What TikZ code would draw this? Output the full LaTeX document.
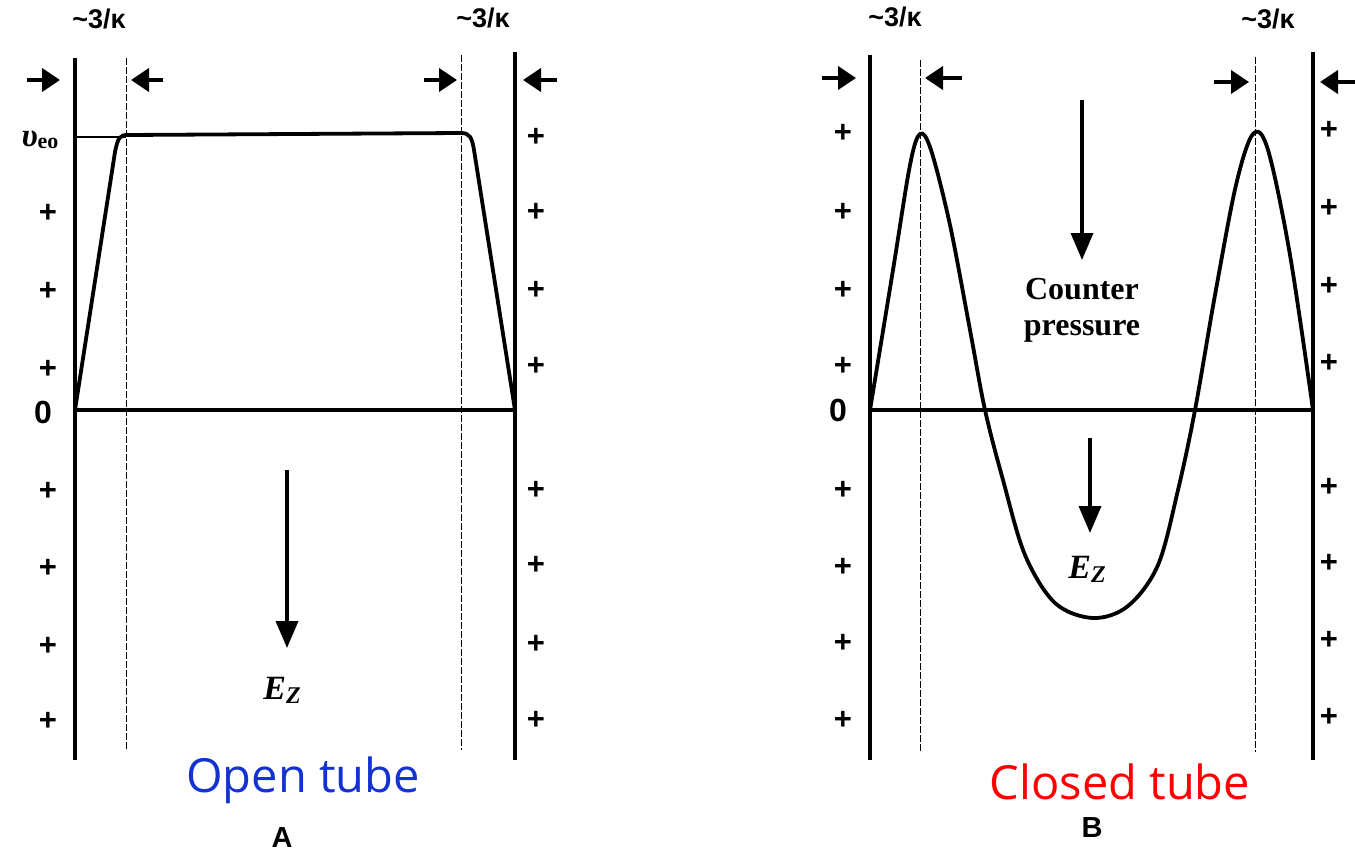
\documentclass[tikz,border=0pt]{standalone}
\usepackage{fontspec}
\setmainfont{Liberation Serif}
\newfontfamily\sansb{Liberation Sans}
\newfontfamily\tubefont{Open Sans}
\usetikzlibrary{arrows.meta}
\begin{document}
\begin{tikzpicture}[x=1pt,y=-1pt,
  wall/.style={line width=3.6pt},
  guide/.style={line width=1pt, dash pattern=on 7pt off 2pt},
  curve/.style={line width=3.8pt, line join=round, line cap=round},
  harrow/.style={-{Triangle[length=18pt,width=23pt]}, line width=4pt},
  varrow/.style={-{Triangle[length=27pt,width=22pt]}, line width=3.6pt},
  plus/.style={font=\sansb\bfseries\fontsize{31}{31}\selectfont, inner sep=0pt},
  kap/.style={font=\sansb\bfseries\fontsize{27}{27}\selectfont, inner sep=0pt},
  zero/.style={font=\sansb\bfseries\fontsize{32}{32}\selectfont, inner sep=0pt},
  ez/.style={font=\bfseries\itshape\fontsize{34}{34}\selectfont, inner sep=0pt},
  panel/.style={font=\sansb\bfseries\fontsize{29}{29}\selectfont, inner sep=0pt},
  tube/.style={font=\tubefont\fontsize{47}{47}\selectfont, inner sep=0pt}
]
\useasboundingbox (0,0) rectangle (1355,856);

% ================= Panel A =================
\coordinate (aLt) at (75,58);   \coordinate (aLb) at (75,760);
\coordinate (aRt) at (515,52);  \coordinate (aRb) at (515,760);
\coordinate (aGLt) at (126,58); \coordinate (aGLb) at (126,750);
\coordinate (aGRt) at (461,55); \coordinate (aGRb) at (461,750);
\draw[wall] (aLt) -- (aLb);
\draw[wall] (aRt) -- (aRb);
\draw[guide] (aGLt) -- (aGLb);
\draw[guide] (aGRt) -- (aGRb);
\coordinate (aO) at (75,410); \coordinate (aE) at (515,410);
\draw[wall] (aO) -- (aE);
\draw[line width=1.2pt] (75,137) -- (126,137);
\draw[curve] (aO) -- (115,152) .. controls (118,137) and (120,135) .. (128,135)
  -- (461,133) .. controls (470,133) and (472,138) .. (474,150) -- (aE);

\coordinate (a1s) at (27,80);  \coordinate (a1e) at (60,80);
\coordinate (a2s) at (163,80); \coordinate (a2e) at (131,80);
\coordinate (a3s) at (424,80); \coordinate (a3e) at (457,80);
\coordinate (a4s) at (557,80); \coordinate (a4e) at (523,80);
\draw[harrow] (a1s) -- (a1e);
\draw[harrow] (a2s) -- (a2e);
\draw[harrow] (a3s) -- (a3e);
\draw[harrow] (a4s) -- (a4e);
\node[kap] (ak1) at (99,19) {\char`\~3/κ};
\node[kap] (ak2) at (483,18) {\char`\~3/κ};

\node[inner sep=0pt, font=\bfseries\itshape\fontsize{33}{33}\selectfont] (aveo) at (40,140) {υ\raisebox{-2pt}{\upshape\fontsize{22}{22}\selectfont eo}};
\node[zero] (a0) at (43,412) {0};

\foreach \yy [count=\i] in {213,291,369,491,568,646,721}
  \node[plus] (apl\i) at (48,\yy) {+};
\foreach \yy [count=\i] in {137,212,290,366,490,565,644,720}
  \node[plus] (apr\i) at (536,\yy) {+};

\coordinate (aEs) at (287,470); \coordinate (aEe) at (287,648);
\draw[varrow] (aEs) -- (aEe);
\node[ez] (aEz) at (282,690) {E\raisebox{-4pt}{\fontsize{24}{24}\selectfont Z}};
\node[tube, text={rgb,255:red,20;green,50;blue,210}] (aTube) at (303,780) {Open tube};
\node[panel] (aA) at (282,838) {A};

% ================= Panel B =================
\coordinate (bLt) at (870,55);   \coordinate (bLb) at (870,760);
\coordinate (bRt) at (1313,52);  \coordinate (bRb) at (1313,760);
\coordinate (bGLt) at (920,60);  \coordinate (bGLb) at (920,752);
\coordinate (bGRt) at (1255,57); \coordinate (bGRb) at (1255,752);
\draw[wall] (bLt) -- (bLb);
\draw[wall] (bRt) -- (bRb);
\draw[guide] (bGLt) -- (bGLb);
\draw[guide] (bGRt) -- (bGRb);
\coordinate (bO) at (870,410); \coordinate (bE) at (1313,410);
\draw[wall] (bO) -- (bE);
\draw[curve] plot[smooth, tension=0.55] coordinates {
  (870,410) (893,270) (910,165) (920,134) (931,150) (950,225) (970,330)
  (985,410) (1003,480) (1025,555) (1055,603) (1093,618) (1128,606)
  (1158,565) (1178,490) (1195,410) (1215,295) (1236,185) (1253,134)
  (1268,150) (1290,255) (1313,410)};

\coordinate (b1s) at (822,78);   \coordinate (b1e) at (856,78);
\coordinate (b2s) at (962,78);   \coordinate (b2e) at (925,78);
\coordinate (b3s) at (1214,82);  \coordinate (b3e) at (1249,82);
\coordinate (b4s) at (1355,82);  \coordinate (b4e) at (1320,82);
\draw[harrow] (b1s) -- (b1e);
\draw[harrow] (b2s) -- (b2e);
\draw[harrow] (b3s) -- (b3e);
\draw[harrow] (b4s) -- (b4e);
\node[kap] (bk1) at (895,17) {\char`\~3/κ};
\node[kap] (bk2) at (1268,19) {\char`\~3/κ};

\node[zero] (b0) at (838,410) {0};
\foreach \yy [count=\i] in {133,212,290,366,490,567,643,720}
  \node[plus] (bpl\i) at (843,\yy) {+};
\foreach \yy [count=\i] in {130,208,286,363,487,563,640,717}
  \node[plus] (bpr\i) at (1329,\yy) {+};

\coordinate (bCs) at (1082,100); \coordinate (bCe) at (1082,260);
\draw[varrow] (bCs) -- (bCe);
\node[inner sep=0pt, align=center, font=\bfseries\fontsize{32}{36}\selectfont] (bCP) at (1082,310) {Counter\\pressure};
\coordinate (bEs) at (1090,438); \coordinate (bEe) at (1090,533);
\draw[varrow] (bEs) -- (bEe);
\node[ez] (bEz) at (1087,569) {E\raisebox{-4pt}{\fontsize{24}{24}\selectfont Z}};
\node[tube, text=red] (bTube) at (1120,782) {Closed tube};
\node[panel] (bB) at (1092,828) {B};
\end{tikzpicture}
\end{document}
